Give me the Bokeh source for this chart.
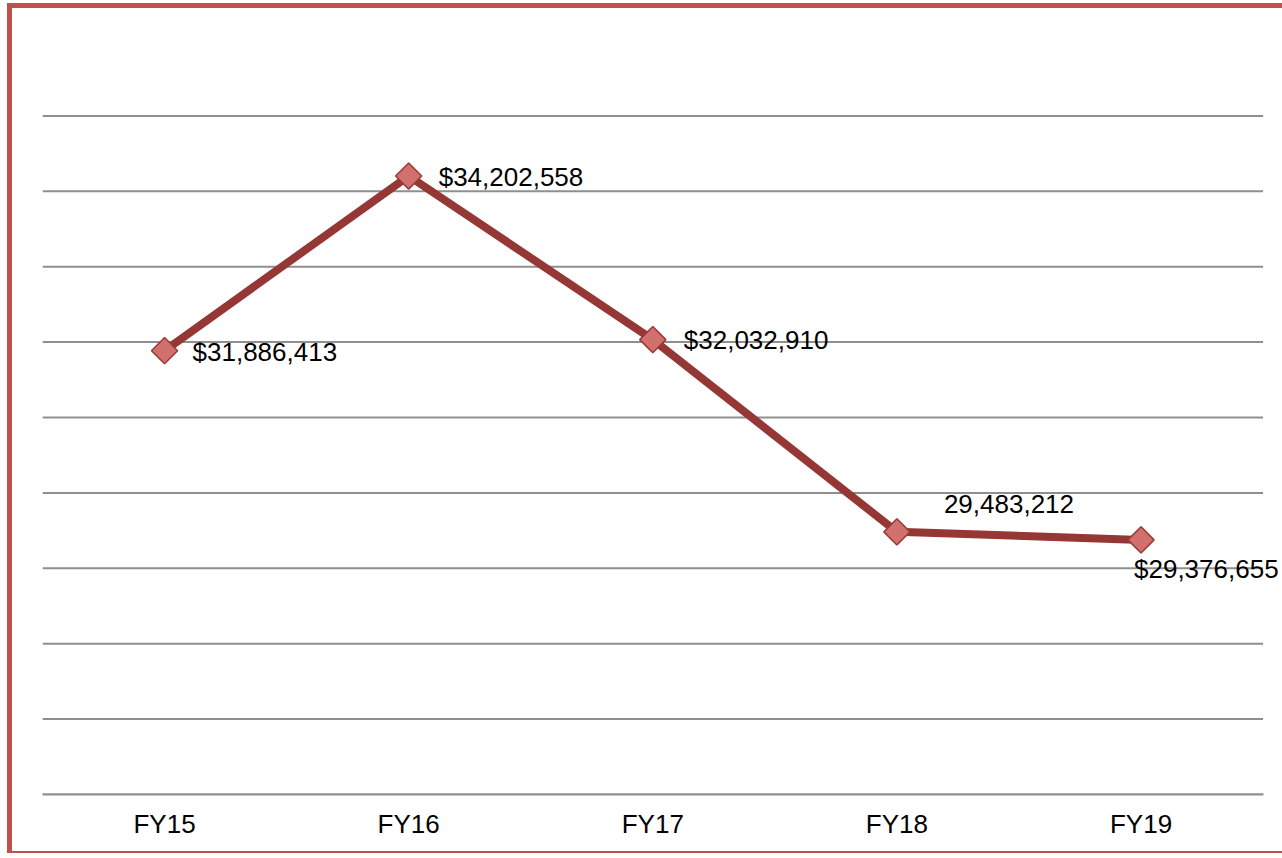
import math
from bokeh.plotting import figure
from bokeh.models import ColumnDataSource, LabelSet, FixedTicker, Range1d
from bokeh.core.properties import value
from bokeh.embed import file_html
from bokeh.resources import INLINE

# ---- data ----
categories = ["FY15", "FY16", "FY17", "FY18", "FY19"]
amounts = [31886413, 34202558, 32032910, 29483212, 29376655]
value_labels = ["$31,886,413", "$34,202,558", "$32,032,910", "29,483,212", "$29,376,655"]
grid_ticks = [26000000, 27000000, 28000000, 29000000, 30000000,
              31000000, 32000000, 33000000, 34000000, 35000000]

# label placement (style only)
label_dx = [28, 30, 31, 47, -7]
label_dy = [-1, -1, 0, 28, -29]

idx = list(range(len(categories)))
src = ColumnDataSource(dict(x=idx, y=amounts, label=value_labels,
                            dx=label_dx, dy=label_dy))
n = len(categories)
grid_src = ColumnDataSource(dict(x0=[-0.5] * len(grid_ticks), x1=[n - 0.5] * len(grid_ticks),
                                 y=grid_ticks))

p = figure(width=1275, height=850, output_backend="svg", toolbar_location=None,
           x_range=Range1d(-0.5, n - 0.5 + 0.1),
           y_range=Range1d(26000000, 36000000),
           min_border_left=30, min_border_right=0, min_border_top=32, min_border_bottom=64)
p.styles = {"border-left": "5px solid #C0504D", "border-top": "5px solid #C0504D",
            "border-bottom": "2px solid #C0504D", "margin-left": "7px", "margin-top": "3px"}

p.outline_line_color = None
p.background_fill_color = "white"
p.border_fill_color = "white"

p.yaxis.visible = False
p.xgrid.grid_line_color = None
p.ygrid.grid_line_color = None

# horizontal gridlines across the category span
p.segment(x0="x0", y0="y", x1="x1", y1="y", source=grid_src,
          line_color="#8f8f8f", line_width=2)

p.xaxis.ticker = FixedTicker(ticks=idx)
p.xaxis.major_label_overrides = {i: c for i, c in zip(idx, categories)}
p.xaxis.bounds = (-0.5, n - 0.5)
p.xaxis.axis_line_color = "#8f8f8f"
p.xaxis.axis_line_width = 2
p.xaxis.major_tick_line_color = None
p.xaxis.minor_tick_line_color = None
p.xaxis.major_tick_in = 0
p.xaxis.major_tick_out = 0
p.xaxis.major_label_standoff = 14
p.xaxis.major_label_text_font = "Liberation Sans"
p.xaxis.major_label_text_font_size = "26px"
p.xaxis.major_label_text_color = "black"

p.line("x", "y", source=src, line_color="#953735", line_width=8)

p.scatter("x", "y", source=src, marker="square", angle=math.pi / 4, size=18.5,
          fill_color="#d2706e", line_color="#993a38", line_width=1.5)

labels = LabelSet(x="x", y="y", text="label", source=src, x_offset="dx", y_offset="dy",
                  text_font=value("Liberation Sans"), text_font_size=value("26px"),
                  text_color="black", text_align="left", text_baseline="middle")
p.add_layout(labels)

open("out.html", "w").write(file_html(p, INLINE))
